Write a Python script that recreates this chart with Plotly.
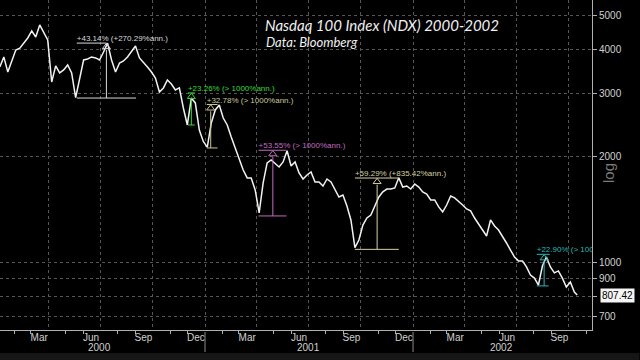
import numpy as np
import pandas as pd
import plotly.graph_objects as go

# ---------------- data ----------------
week_start = "2000-01-07"
ndx_weekly = [
    3578, 3820, 3463, 3697, 3997, 4046, 4185, 4323, 4525, 4350,
    4706, 4466, 4267, 3244, 3602, 3441, 3509, 3625, 3441, 2930,
    3287, 3745, 3770, 3820, 3795, 3745, 3945, 4180, 3745, 3463,
    3672, 3720, 3820, 3945, 4103, 3795, 3697, 3578, 3463, 3330,
    3039, 3120, 3287, 3202, 3079, 3120, 2737, 2450, 2920, 2829,
    2371, 2200, 2120, 2482, 2702, 2790, 2564, 2450, 2265, 2108,
    1988, 1826, 1734, 1734, 1603, 1380, 1678, 1912, 1950, 1900,
    1862, 1925, 2070, 1875, 1925, 1791, 1722, 1768, 1803, 1689,
    1689, 1645, 1722, 1689, 1603, 1531, 1551, 1444, 1318, 1100,
    1156, 1275, 1335, 1361, 1444, 1531, 1583, 1613, 1613, 1624,
    1735, 1634, 1645, 1613, 1667, 1634, 1583, 1561, 1502, 1502,
    1435, 1389, 1453, 1541, 1522, 1482, 1453, 1416, 1398, 1335,
    1283, 1234, 1187, 1318, 1267, 1234, 1187, 1134, 1083, 1035,
    1009, 1009, 970, 920, 902, 862, 976, 1035, 970, 933,
    945, 902, 851, 879, 823,
]
last_date = "2002-10-16"
last_value = 807.42

# rally measurement overlays
rally_start = ["2000-05-21", "2000-12-02", "2001-01-04", "2001-04-05", "2001-09-21", "2002-08-06"]
rally_mid = ["2000-07-12", "2000-12-08", "2001-01-11", "2001-04-30", "2001-10-30", "2002-08-19"]
rally_top_end = ["2000-07-12", "2000-12-14", "2001-01-23", "2001-05-24", "2001-12-07", "2002-08-29"]
rally_bottom_end = ["2000-09-02", "2000-12-14", "2001-01-23", "2001-05-24", "2001-12-07", "2002-08-27"]
rally_low = [2921, 2450, 2109, 1353, 1088, 857]
rally_pct = [43.14, 23.26, 32.78, 53.55, 59.29, 22.90]
rally_ann = ["+270.29%ann.", "> 1000%ann.", "> 1000%ann.", "> 1000%ann.", "+835.42%ann.", "> 1000%ann."]
rally_colors = ["#d9d9d9", "#33dd33", "#cdc69a", "#c06cc0", "#d6d0a0", "#2ab8b8"]

month_label_dates = ["2000-03-16", "2000-06-15", "2000-09-15", "2000-12-16",
                     "2001-03-16", "2001-06-15", "2001-09-15", "2001-12-16",
                     "2002-03-16", "2002-06-15", "2002-09-15"]
month_labels = ["Mar", "Jun", "Sep", "Dec", "Mar", "Jun", "Sep", "Dec", "Mar", "Jun", "Sep"]
year_labels = ["2000", "2001", "2002"]
year_label_dates = ["2000-06-29", "2001-07-01", "2002-06-06"]
year_breaks = ["2001-01-01", "2002-01-01"]
y_ticks = [700, 800, 900, 1000, 2000, 3000, 4000, 5000]
y_tick_text = ["700", "", "900", "1000", "2000", "3000", "4000", "5000"]
x_range = ["2000-01-07 07:00", "2002-11-11"]
y_range_vals = [642.7, 5539]

# ---------------- figure ----------------
dates = list(pd.date_range(week_start, periods=len(ndx_weekly), freq="7D")) + [pd.Timestamp(last_date)]
values = ndx_weekly + [last_value]

AX = "#b0b0b0"
GRID = "#555555"
TICKF = dict(family="Arial", size=10, color="#d0d0d0")

fig = go.Figure()
fig.add_trace(go.Scatter(x=dates, y=values, mode="lines",
                         line=dict(color="#f2f2f2", width=1.5), hoverinfo="skip"))
# invisible trace to carry the label axis
fig.add_trace(go.Scatter(x=dates, y=values, xaxis="x2", mode="lines",
                         line=dict(width=0), opacity=0, hoverinfo="skip"))

for s, m, te, be, lo, pct, ann, col in zip(rally_start, rally_mid, rally_top_end, rally_bottom_end,
                                            rally_low, rally_pct, rally_ann, rally_colors):
    hi = lo * (1 + pct / 100)
    xs = [s, te, None, s, be, None, m, m]
    ys = [hi, hi, None, lo, lo, None, lo, hi / 1.045]
    fig.add_trace(go.Scatter(x=xs, y=ys, mode="lines", line=dict(color=col, width=1),
                             hoverinfo="skip", connectgaps=False))
    fig.add_trace(go.Scatter(x=[m], y=[hi / 1.025], mode="markers",
                             marker=dict(symbol="triangle-up-open", size=7, color=col,
                                         line=dict(color=col, width=1)),
                             hoverinfo="skip"))
    fig.add_trace(go.Scatter(x=[s], y=[hi], mode="text", text=[f"+{pct:.2f}% ({ann})"],
                             textposition="top right", cliponaxis=True,
                             textfont=dict(family="Arial", size=8, color=col), hoverinfo="skip"))

annotations = [
    dict(text="<i>Nasdaq 100 Index (NDX) 2000-2002</i>", xref="paper", yref="paper",
         x=263 / 592, y=1 - 25 / 330, xanchor="left", yanchor="middle", showarrow=False,
         font=dict(family="Lato", size=15, color="#f0f0f0")),
    dict(text="<i>Data: Bloomberg</i>", xref="paper", yref="paper",
         x=264 / 592, y=1 - 42 / 330, xanchor="left", yanchor="middle", showarrow=False,
         font=dict(family="Lato", size=13, color="#f0f0f0")),
    dict(text="log", xref="paper", yref="paper", x=1, xshift=16, y=1 - 173 / 330,
         xanchor="center", yanchor="middle", textangle=-90, showarrow=False,
         font=dict(family="Arial", size=15, color="#7a7a7a")),
    dict(text=f"{last_value:.2f}", xref="paper", yref="y", x=1, xshift=8,
         y=np.log10(last_value), xanchor="left", yanchor="middle", showarrow=False,
         bgcolor="#f4f4f4", borderpad=1, font=dict(family="Arial", size=10, color="#000000")),
]
for d, t in zip(year_label_dates, year_labels):
    annotations.append(dict(text=t, xref="x", yref="paper", x=d, y=-17 / 330,
                            xanchor="center", yanchor="middle", showarrow=False, font=TICKF))

shapes = [dict(type="line", xref="x", yref="paper", x0=d, x1=d, y0=-2 / 330, y1=-22 / 330,
               line=dict(color="#8a8a8a", width=1)) for d in year_breaks]
shapes.append(dict(type="rect", xref="paper", yref="paper", x0=0, x1=1.08, y0=-30 / 330, y1=-23 / 330,
                   fillcolor="#161616", line=dict(width=0), layer="below"))

fig.update_layout(
    width=640, height=360,
    margin=dict(l=0, r=48, t=0, b=30),
    paper_bgcolor="#000000", plot_bgcolor="#000000",
    showlegend=False,
    xaxis=dict(type="date", range=x_range, tickmode="linear", tick0="2000-01-01", dtick="M3",
               showticklabels=False, ticks="", showgrid=True, gridcolor=GRID, griddash="dot",
               gridwidth=1, showline=True, linecolor=AX, linewidth=1, zeroline=False,
               minor=dict(tickmode="linear", tick0="2000-01-01", dtick="M1", ticks="outside",
                          ticklen=3, tickcolor=AX, showgrid=False)),
    xaxis2=dict(type="date", range=x_range, overlaying="x", anchor="y", side="bottom",
                tickmode="array", tickvals=month_label_dates, ticktext=month_labels,
                ticks="", showgrid=False, showline=False, zeroline=False, tickfont=TICKF),
    yaxis=dict(type="log", side="right", range=[np.log10(y_range_vals[0]), np.log10(y_range_vals[1])],
               tickmode="array", tickvals=y_ticks, ticktext=y_tick_text, ticks="outside",
               ticklen=4, tickcolor=AX, showline=True, linecolor=AX, linewidth=1,
               showgrid=True, gridcolor=GRID, griddash="dot", zeroline=False, tickfont=TICKF),
    annotations=annotations,
    shapes=shapes,
)

fig.write_html("out.html", config={"displayModeBar": False},
               post_script="document.body.style.margin='0px';document.body.style.background='#000';")
